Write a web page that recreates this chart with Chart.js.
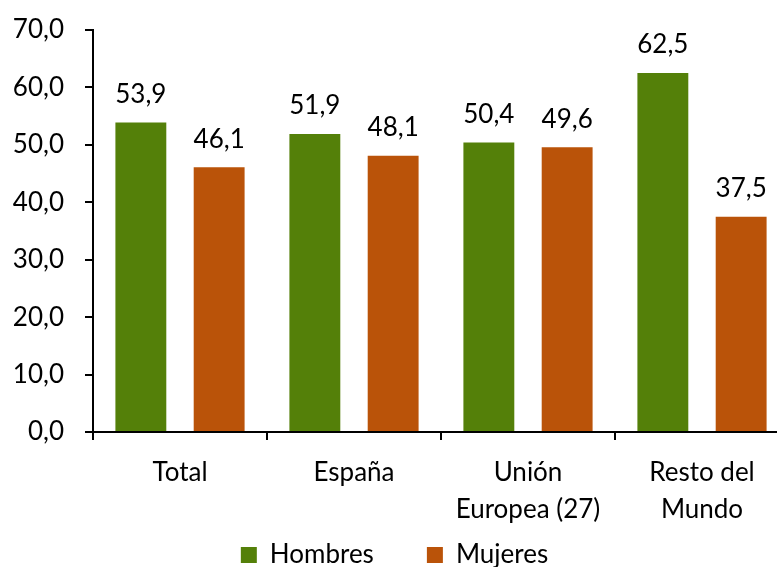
<!DOCTYPE html>
<html lang="es">
  <head>
    <meta charset="UTF-8" />
    <title>Hombres y mujeres por procedencia</title>
    <script src="https://cdn.jsdelivr.net/npm/chart.js"></script>
    <style>
      html, body {
        margin: 0;
        padding: 0;
        background: #ffffff;
        overflow: hidden;
      }
      /* a bit wider than the window: the plot runs past the right edge */
      .chart-box {
        position: absolute;
        left: 0;
        top: 0;
        width: 800px;
        height: 578px;
      }
    </style>
  </head>
  <body>
    <div class="chart-box">
      <canvas id="sexChart"></canvas>
    </div>

    <script>
      // data
      var categories = ["Total", "España", ["Unión", "Europea (27)"], ["Resto del", "Mundo"]];
      var hombres = [53.9, 51.9, 50.4, 62.5];
      var mujeres = [46.1, 48.1, 49.6, 37.5];
      var yTicks = [0, 10, 20, 30, 40, 50, 60, 70];

      var FONT = "Lato, 'Liberation Sans', sans-serif";

      function fmt(v) {
        return v.toFixed(1).replace(".", ",");
      }

      // value labels above each bar
      var barLabels = {
        id: "barLabels",
        afterDatasetsDraw: function (chart) {
          var ctx = chart.ctx;
          ctx.save();
          ctx.font = "26px " + FONT;
          ctx.fillStyle = "#000";
          ctx.textAlign = "center";
          ctx.textBaseline = "middle";
          chart.data.datasets.forEach(function (ds, i) {
            chart.getDatasetMeta(i).data.forEach(function (bar, j) {
              ctx.fillText(fmt(ds.data[j]), bar.x, bar.y - 28);
            });
          });
          ctx.restore();
        },
      };

      var ctx = document.getElementById("sexChart").getContext("2d");
      var sexChart = new Chart(ctx, {
        type: "bar",
        data: {
          labels: categories,
          datasets: [
            {
              label: "Hombres",
              data: hombres,
              backgroundColor: "#548009",
              borderWidth: 0,
            },
            {
              label: "Mujeres",
              data: mujeres,
              backgroundColor: "#BA5309",
              borderWidth: 0,
            },
          ],
        },
        options: {
          responsive: true,
          maintainAspectRatio: false,
          animation: false,
          categoryPercentage: 0.9,
          barPercentage: 0.65,
          layout: {
            padding: { top: 30, right: 11, bottom: 0, left: 0 },
          },
          plugins: {
            legend: {
              position: "bottom",
              labels: {
                font: { family: FONT, size: 26 },
                color: "#000",
                boxWidth: 16,
                boxHeight: 16,
                padding: 53,
              },
            },
            tooltip: { enabled: false },
          },
          scales: {
            x: {
              grid: {
                offset: true,
                drawOnChartArea: false,
                drawTicks: true,
                tickLength: 8,
                color: "#000",
                lineWidth: 2,
              },
              border: { color: "#000", width: 2 },
              ticks: {
                color: "#000",
                padding: 14,
                maxRotation: 0,
                font: { family: FONT, size: 26, lineHeight: 1.42 },
              },
              afterFit: function (s) {
                s.height = 57;
                // two-line labels reach into the legend band: don't clip them
                s._computeLabelArea = function () {};
              },
            },
            y: {
              min: 0,
              max: 70,
              afterBuildTicks: function (s) {
                s.ticks = yTicks.map(function (v) {
                  return { value: v };
                });
              },
              grid: {
                drawOnChartArea: false,
                drawTicks: true,
                tickLength: 8,
                color: "#000",
                lineWidth: 2,
              },
              border: { color: "#000", width: 2 },
              ticks: {
                color: "#000",
                padding: 21,
                font: { family: FONT, size: 26 },
                callback: function (v) {
                  return fmt(v);
                },
              },
              afterFit: function (s) {
                s.width = 93;
                s.paddingTop = 0;
              },
            },
          },
        },
        plugins: [barLabels],
      });
    </script>
  </body>
</html>
